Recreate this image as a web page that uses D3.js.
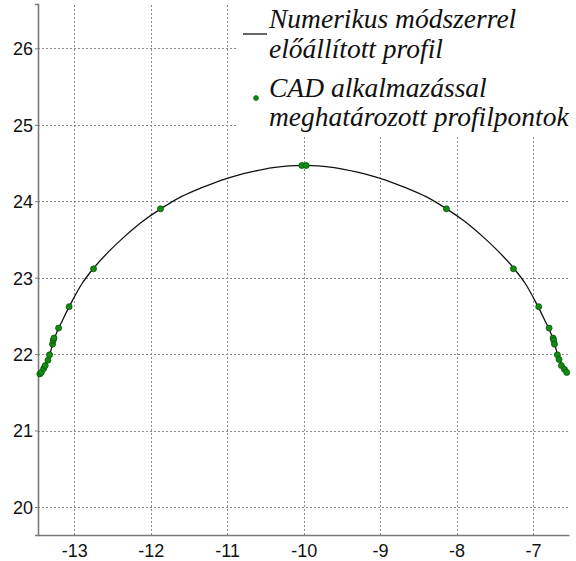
<!DOCTYPE html>
<html>
<head>
<meta charset="utf-8">
<script src="https://cdn.jsdelivr.net/npm/d3@7"></script>
<style>
  html, body { margin: 0; padding: 0; background: #fff; }
  svg { display: block; }
</style>
</head>
<body>
<svg id="chart" width="576" height="561"></svg>
<script>
// Numerically generated profile (solid line)
const profileX = [-13.47, -13.40, -13.33, -13.25, -13.15, -13.05, -12.90, -12.75, -12.55, -12.35, -12.10, -11.87,
  -11.60, -11.35, -11.00, -10.70, -10.40, -10.00, -9.60, -9.30, -9.00, -8.65, -8.40, -8.13,
  -7.90, -7.65, -7.45, -7.25, -7.10, -6.95, -6.85, -6.75, -6.67, -6.60, -6.53];
const profileY = [21.73, 21.81, 21.97, 22.23, 22.45, 22.65, 22.92, 23.12, 23.34, 23.53, 23.74, 23.90,
  24.06, 24.17, 24.30, 24.38, 24.44, 24.47, 24.44, 24.38, 24.30, 24.17, 24.06, 23.90,
  23.74, 23.53, 23.34, 23.12, 22.92, 22.65, 22.45, 22.23, 21.97, 21.81, 21.73];

// Profile points determined with the CAD application (green markers)
const cadX = [-13.45, -13.43, -13.40, -13.38, -13.344, -13.323, -13.284, -13.275, -13.265, -13.205, -13.067, -12.748,
  -11.872, -10.024, -9.967, -8.133, -7.257, -6.926, -6.79, -6.738, -6.73, -6.72, -6.682, -6.66, -6.63, -6.59, -6.56];
const cadY = [21.74, 21.76, 21.81, 21.85, 21.92, 21.99, 22.13, 22.18, 22.21, 22.34, 22.62, 23.115,
  23.90, 24.467, 24.467, 23.90, 23.115, 22.62, 22.34, 22.21, 22.18, 22.13, 21.99, 21.93, 21.85, 21.80, 21.76];

const xTicks = [-13, -12, -11, -10, -9, -8, -7];
const yTicks = [20, 21, 22, 23, 24, 25, 26];
const legendLabels = [
  ["Numerikus módszerrel", "előállított profil"],
  ["CAD alkalmazással", "meghatározott profilpontok"]
];

const W = 576, H = 561;
const margin = { left: 38, right: 7, top: 4, bottom: 26 };
const svg = d3.select("#chart");

const x = d3.scaleLinear().domain([-13.474, -6.53]).range([margin.left, W - margin.right]);
const y = d3.scaleLinear().domain([19.633, 26.58]).range([H - margin.bottom, margin.top]);

// dotted grid
const grid = svg.append("g").attr("stroke", "#8a8a8a").attr("stroke-width", 1).attr("stroke-dasharray", "2,2");
grid.selectAll("line.v").data(xTicks).join("line").attr("class", "v")
  .attr("x1", d => Math.round(x(d)) + 0.5).attr("x2", d => Math.round(x(d)) + 0.5)
  .attr("y1", y.range()[0]).attr("y2", y.range()[1]);
grid.selectAll("line.h").data(yTicks).join("line").attr("class", "h")
  .attr("y1", d => Math.round(y(d)) + 0.5).attr("y2", d => Math.round(y(d)) + 0.5)
  .attr("x1", x.range()[0]).attr("x2", x.range()[1]);

// axes
const xAxis = d3.axisBottom(x).tickValues(xTicks).tickSize(0).tickPadding(6).tickFormat(d => String(d));
const yAxis = d3.axisLeft(y).tickValues(yTicks).tickSize(3).tickPadding(2).tickFormat(d => String(d));

const gx = svg.append("g").attr("transform", `translate(0,${H - margin.bottom})`).call(xAxis);
const gy = svg.append("g").attr("transform", `translate(${margin.left},0)`).call(yAxis);
[gx, gy].forEach(g => {
  g.select(".domain").attr("stroke", "#7a7a7a").attr("stroke-width", 1.6);
  g.selectAll(".tick line").attr("stroke", "#7a7a7a");
  g.selectAll("text").attr("fill", "#111").style("font-family", "'Liberation Sans', Arial, sans-serif").style("font-size", "18px");
});
gx.selectAll("text").attr("dy", "0.9em");
gy.selectAll("text").attr("dy", "0.36em");

// numerical profile
const line = d3.line().x(d => x(d[0])).y(d => y(d[1])).curve(d3.curveCatmullRom.alpha(0.5));
svg.append("path")
  .datum(profileX.map((v, i) => [v, profileY[i]]))
  .attr("fill", "none").attr("stroke", "#111").attr("stroke-width", 1.3)
  .attr("d", line);

// CAD points
svg.append("g").selectAll("circle")
  .data(cadX.map((v, i) => [v, cadY[i]]))
  .join("circle")
  .attr("cx", d => x(d[0])).attr("cy", d => y(d[1])).attr("r", 3)
  .attr("fill", "#0f8f0f").attr("stroke", "#0a4f0a").attr("stroke-width", 0.8);

// legend (white box over the grid)
const lg = svg.append("g");
lg.append("rect").attr("x", 238).attr("y", 0).attr("width", W - 238).attr("height", 137).attr("fill", "#fff");
lg.append("line").attr("x1", 243).attr("x2", 267).attr("y1", 34).attr("y2", 34)
  .attr("stroke", "#111").attr("stroke-width", 1.3);
lg.append("circle").attr("cx", 256).attr("cy", 98).attr("r", 2.5)
  .attr("fill", "#0f8f0f").attr("stroke", "#0a4f0a").attr("stroke-width", 0.6);
const baselines = [[28, 58], [97, 126]];
legendLabels.forEach((lines, i) => {
  lines.forEach((t, j) => {
    lg.append("text").attr("x", 269).attr("y", baselines[i][j])
      .attr("font-family", "Liberation Serif")
      .attr("font-style", "italic").attr("font-size", 27.5).attr("fill", "#111")
      .text(t);
  });
});
</script>
</body>
</html>
